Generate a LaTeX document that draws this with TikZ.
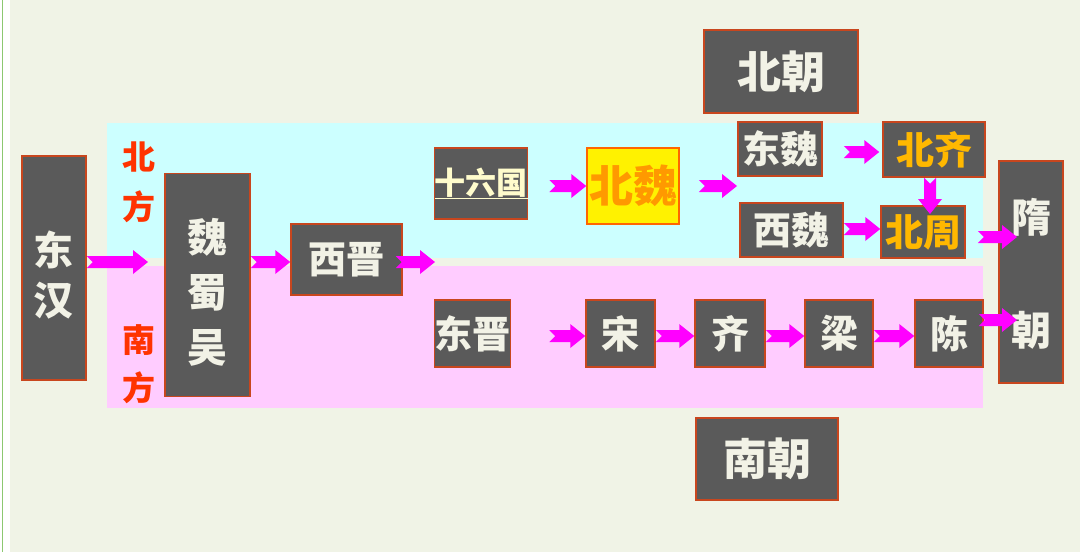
\documentclass[tikz,border=0pt]{standalone}
\usepackage{fontspec}
\newfontfamily\cjk{Noto Sans CJK SC}
\usetikzlibrary{calc}
\definecolor{bgc}{HTML}{F0F3E6}
\definecolor{cyanr}{HTML}{CCFFFF}
\definecolor{pinkr}{HTML}{FFCCFF}
\definecolor{boxg}{HTML}{5A5A5A}
\definecolor{bord}{HTML}{C8461E}
\definecolor{txtc}{HTML}{F2F2E6}
\definecolor{redt}{HTML}{FF3300}
\definecolor{mag}{HTML}{FF00FF}
\definecolor{gold}{HTML}{FFB800}
\definecolor{orng}{HTML}{FF9900}
\definecolor{grn}{HTML}{8CC870}
\tikzset{
  gbox/.style={draw=bord, fill=boxg, line width=1.5, text=txtc, inner sep=0pt,
    font=\cjk\bfseries\fontsize{38}{40}\selectfont},
  vtext/.style={text=txtc, inner sep=0pt, align=center},
  lab/.style={text=redt, inner sep=0pt, font=\cjk\bfseries\fontsize{33}{33}\selectfont},
  big/.style={font=\cjk\bfseries\fontsize{44}{46}\selectfont},
}
% notched block arrow from named coordinate #1 (tail) to #2 (tip)
\newcommand\narr[2]{%
  \path ($(#2)!15pt!(#1)$) coordinate (hb);
  \fill[mag] ($(#1)!6pt!90:(#2)$) -- ($(hb)!6pt!-90:(#1)$) -- ($(hb)!12pt!-90:(#1)$)
    -- (#2) -- ($(hb)!12pt!90:(#1)$) -- ($(hb)!6pt!90:(#1)$)
    -- ($(#1)!6pt!-90:(#2)$) -- ($(#1)!6pt!(#2)$) -- cycle;}
\begin{document}
\begin{tikzpicture}[x=1pt,y=-1pt]
\useasboundingbox (0,0) rectangle (1080,552);
\fill[white] (0,0) rectangle (1080,552);
\fill[bgc] (10,0) rectangle (1080,552);
\draw[grn, line width=1.5] (2.5,0) -- (2.5,552);
% regions
\fill[cyanr] (107,123) rectangle (983,258);
\fill[pinkr] (107,266) rectangle (983,408);
% labels
\node[lab] (n1) at (139,157) {北};
\node[lab] (n2) at (139,207) {方};
\node[lab] (s1) at (139,340) {南};
\node[lab] (s2) at (139,388) {方};
% boxes
\node[gbox, minimum width=64, minimum height=224] (dh) at (54,268) {};
\node[vtext, font=\cjk\bfseries\fontsize{40}{50}\selectfont] (dht) at (54,275) {东\\汉};
\node[gbox, minimum width=85, minimum height=223] (wsw) at (207.5,285) {};
\node[vtext, font=\cjk\bfseries\fontsize{40}{55}\selectfont] (wswt) at (207.5,292) {魏\\蜀\\吴};
\node[gbox, minimum width=111, minimum height=71] (xj) at (346.5,259.5) {西晋};
\node[gbox, minimum width=92, minimum height=71, text=white!80!yellow, font=\cjk\bfseries\fontsize{31}{33}\selectfont] (sl) at (481,183.5) {\underline{十六国}};
\node[gbox, big, fill=yellow, draw=orange!80!red, text=orng, minimum width=92, minimum height=76] (bw) at (633,186) {北魏};
\node[gbox, minimum width=84, minimum height=54] (dw) at (780,149) {东魏};
\node[gbox, minimum width=102, minimum height=55, text=gold] (bq) at (934,149.5) {北齐};
\node[gbox, minimum width=103, minimum height=54] (xw) at (791.5,230) {西魏};
\node[gbox, minimum width=84, minimum height=52, text=gold] (bz) at (923,232) {北周};
\node[gbox, minimum width=64, minimum height=222] (sc) at (1031,272) {};
\node[vtext, font=\cjk\bfseries\fontsize{40}{113}\selectfont] (sct) at (1031,273.5) {隋\\朝};
\node[gbox, big, minimum width=154, minimum height=83] (bc) at (781,71.5) {北朝};
\node[gbox, minimum width=75, minimum height=67] (dj) at (472.5,333.5) {东晋};
\node[gbox, minimum width=69, minimum height=67] (song) at (620.5,333.5) {宋};
\node[gbox, minimum width=70, minimum height=67] (qi) at (730,333.5) {齐};
\node[gbox, minimum width=68, minimum height=67] (liang) at (839,333.5) {梁};
\node[gbox, minimum width=68, minimum height=67] (chen) at (949,333.5) {陈};
\node[gbox, big, minimum width=142, minimum height=82] (nc) at (767,459) {南朝};
% connector end points
\path (dh.east |- 0,262) coordinate (a1) (148,262) coordinate (b1);
\path (wsw.east |- 0,262) coordinate (a2) (xj.west |- 0,262) coordinate (b2);
\path ([xshift=-7pt]xj.east |- 0,262) coordinate (a3) (435,262) coordinate (b3);
\path ([xshift=21pt]sl.east |- 0,186) coordinate (a4) (bw.west |- 0,186) coordinate (b4);
\path ([xshift=19pt]bw.east |- 0,186) coordinate (a5) (737,186) coordinate (b5);
\path ([xshift=21pt]dw.east |- 0,152) coordinate (a6) ([xshift=-3pt]bq.west |- 0,152) coordinate (b6);
\path (bq.south -| 930,0) coordinate (a7) (930,214) coordinate (b7);
\path (xw.east |- 0,229) coordinate (a8) (bz.west |- 0,229) coordinate (b8);
\path ([xshift=12pt]bz.east |- 0,237) coordinate (a9) (1017,237) coordinate (b9);
\path ([xshift=38pt]dj.east |- 0,336) coordinate (a10) (song.west |- 0,336) coordinate (b10);
\path (song.east |- 0,336) coordinate (a11) (qi.west |- 0,336) coordinate (b11);
\path (qi.east |- 0,336) coordinate (a12) (liang.west |- 0,336) coordinate (b12);
\path (liang.east |- 0,336) coordinate (a13) (chen.west |- 0,336) coordinate (b13);
\path ([xshift=-5pt]chen.east |- 0,320) coordinate (a14) (1017,320) coordinate (b14);
% connectors
\narr{a1}{b1}
\narr{a2}{b2}
\narr{a3}{b3}
\narr{a4}{b4}
\narr{a5}{b5}
\narr{a6}{b6}
\narr{a7}{b7}
\narr{a8}{b8}
\narr{a9}{b9}
\narr{a10}{b10}
\narr{a11}{b11}
\narr{a12}{b12}
\narr{a13}{b13}
\narr{a14}{b14}
\end{tikzpicture}
\end{document}
